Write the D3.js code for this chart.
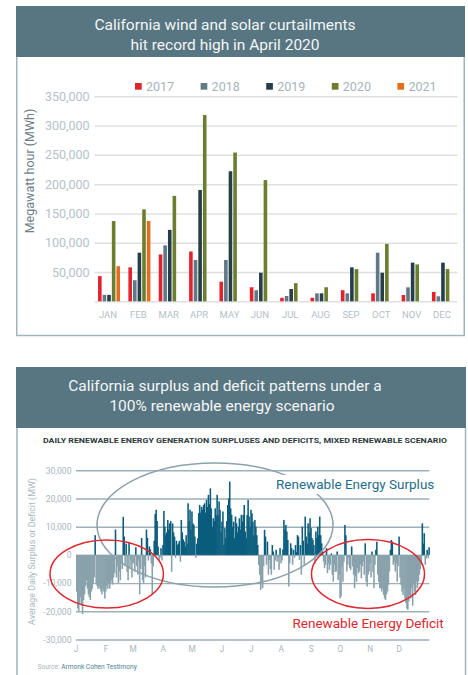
<!DOCTYPE html>
<html>
<head>
<meta charset="utf-8">
<script src="https://cdnjs.cloudflare.com/ajax/libs/d3/7.8.5/d3.min.js"></script>
<style>
body{margin:0;background:#fff;}
svg{display:block;font-family:Roboto,'Open Sans',sans-serif;}
</style>
</head>
<body>
<svg id="chart" width="468" height="675"></svg>
<script>
// ---- top chart data (MWh curtailed per month)
var months = ['JAN','FEB','MAR','APR','MAY','JUN','JUL','AUG','SEP','OCT','NOV','DEC'];
var years = ['2017','2018','2019','2020','2021'];
var yearColors = ['#e3222b','#5f7986','#263d4a','#6b7d2f','#e46c1c'];
var curt2017 = [43000,58000,80000,85000,33500,24000,6000,6000,19000,13600,10700,16000];
var curt2018 = [11000,36000,95500,70500,70500,18800,9000,13600,13600,83000,23900,8500];
var curt2019 = [11000,83000,122000,190000,222000,48800,21000,13600,58000,48800,66000,66000];
var curt2020 = [137000,157000,180000,318000,254000,207000,31000,24000,55000,98000,63000,55000];
var curt2021 = [60000,137000,null,null,null,null,null,null,null,null,null,null];
var curtTicks = [0,50000,100000,150000,200000,250000,300000,350000];

// ---- bottom chart data (daily surplus / deficit, thousand MW)
var dayJan = [-13,-19,-20,-17,-15,-18,-21,-16,-14,-11,-9,-12,-14,-15,-16,-13,-12,-10,-8,7,-10,-11,-12,-11,-12,-13,-14,-12,-13,-15.5,-13];
var dayFeb = [-11,-12,-10,-12,-10,-9,-10.5,-8,-6.5,9,-8,-4,-10,-6,-9,-3,-5,13.5,6.5,-4,4,-6,-9,4.4,-5,-2,-8,-3];
var dayMar = [-3,-6,2.7,-4,-7,-2,-14,-5,6,-9,-10,-4,-8,9,6,-2,3,2,-3,-14,-4,5,14.5,16,12,3,-2,-1,2.4,-2,3.5];
var dayApr = [15.6,10,7,8,12.4,9,11.2,12,-6,11.2,8,6.5,-1,5,3.5,4,5,-2.4,12.4,8,5.5,4.7,3,7,4,18.3,12,16,9,15.4];
var dayMay = [11.2,10.6,6.5,-1,4,5.9,14.8,17.7,15,17,16,17.7,18.3,15,19.5,17,21.3,18,23.6,16.5,10,13,12,16.5,14,21.3,14.2,19,16,8.3,11.8];
var dayJun = [15.4,3.5,9.5,6,12,17.7,20,26,16.5,14.2,10,11.8,6,13.6,11.2,8,10,13,9,14.2,11.8,14.2,17.7,8.3,6,14.2,19.5,13.6,10,16];
var dayJul = [14.8,11.8,7,12.4,10,7,3.5,-3.5,-7,-12.4,-10,-11.8,-4,8.9,6.5,-3.5,4.7,-7,-1.8,-5,-7,3.5,1.2,-5.3,-2,1.8,-2.4,-1,-5.3,2.4,-3];
var dayAug = [-2,2,12.4,9,10.6,8.3,5.3,-11.2,-3,4.1,2.4,-3.5,1.8,-1,3.5,1,7,6.5,-1.8,3.5,-7,10,5,-3.5,13.6,6.5,4,11.2,8,13,9.5];
var daySep = [6,5.3,3.5,-3,8.3,6,10,7,13.6,7,4.1,1.2,-2.4,-4.7,-3.5,2.4,-6.5,-3,-5.3,-3.5,0.5,-7,-9.5,-3.5,-6,-5.9,1.2,-8.9,-7,-15.4];
var dayOct = [-14.8,-4,-9.5,-2.4,10.6,7,-5.9,-3.5,-1,-4.7,-5.3,3,-4.1,-7,-11.8,-7.5,-9.5,-4.7,-6.5,-5.9,-3.5,-8.3,-4,-2.4,-7,4.1,-9.5,-11.2,-7,-5.9,-3];
var dayNov = [-8,1.2,-6,-11.8,-3.5,1.8,4.7,-7,-9.5,-11.8,-11.8,-13,-12,-14.2,-15.4,-16,-14,-13,-10.6,-5.9,1.8,5.3,4.7,-3.5,-2.4,-5.9,-3,-9.5,-4,6.5];
var dayDec = [-8,-10.6,-13,-14.2,-12,-15.4,-17,-19,-19.5,-16.5,-14.2,-15.4,-11.8,-18,-10.6,-13,-14.2,-9.5,-11.8,-9.5,-7,-5,-3.5,11.2,4,7.7,-3.5,-1.2,1.8,-1.2,2.7];
var monthLetters = ['J','F','M','A','M','J','J','A','S','O','N','D'];
var dailyTicks = [-30,-20,-10,0,10,20,30];

var svg = d3.select('#chart');
var headColor = '#587681', frameColor = '#9fb4bc';

//====== panel 1 frame
svg.append('rect').attr('x',16).attr('y',6).attr('width',449).attr('height',51).style('fill',headColor);
svg.append('path').attr('d','M16.75,57V335.5H464.25V57')
   .style('fill','none').style('stroke',frameColor).style('stroke-width',1.5);
svg.append('g').attr('id','title1')
   .selectAll('text')
   .data(['California wind and solar curtailments','hit record high in April 2020'])
   .enter().append('text')
   .attr('x',225).attr('y',(d,i)=>30+i*19.5)
   .text(d=>d)
   .style('fill','#f3f5f6').style('font-size','15.5px').style('text-anchor','middle');

//====== bar chart
var series = [curt2017,curt2018,curt2019,curt2020,curt2021];
var x0 = d3.scaleBand().domain(months).range([95,457]).paddingInner(0.275).paddingOuter(0.1);
var x1 = d3.scaleBand().domain(years).range([0,x0.bandwidth()]).paddingInner(0.22).paddingOuter(0);
var yC = d3.scaleLinear().domain([0,350000]).range([301.3,96.3]);
var color = d3.scaleOrdinal().domain(years).range(yearColors);

var yAxisC = d3.axisLeft(yC).tickValues(curtTicks).tickSize(-(457.5-94.5)).tickPadding(5)
               .tickFormat(d=>d===0?'':d3.format(',')(d));
var gy = svg.append('g').attr('id','yaxisC').attr('transform','translate(94.5,0)').call(yAxisC);
gy.select('.domain').remove();
gy.selectAll('line').style('stroke','#e0e0e0').style('stroke-width',1.5);
gy.selectAll('text').style('fill','#b4c2c8').style('font-size','12.5px').style('font-family','Roboto');

var xAxisC = d3.axisBottom(x0).tickSize(0).tickPadding(9.5);
var gx = svg.append('g').attr('id','xaxisC').attr('transform','translate(-1,301.3)').call(xAxisC);
gx.select('.domain').remove();
gx.selectAll('text').style('fill','#b2bfc6').style('font-size','9.5px').style('font-family','Roboto');

var barData = [];
months.forEach(function(m,i){
	years.forEach(function(yr,j){
		var v = series[j][i];
		if(v!=null) barData.push({month:m,year:yr,value:v});
	});
});
svg.append('g').attr('id','bars')
   .selectAll('rect').data(barData).enter().append('rect')
   .attr('x',d=>x0(d.month)+x1(d.year))
   .attr('width',x1.bandwidth())
   .attr('y',d=>yC(d.value))
   .attr('height',d=>yC(0)-yC(d.value))
   .style('fill',d=>color(d.year));

var leg = svg.append('g').attr('id','legend')
   .selectAll('g').data(years).enter().append('g')
   .attr('transform',(d,i)=>'translate('+(135+i*65.6)+',83)');
leg.append('rect').attr('width',6.7).attr('height',6.7).style('fill',d=>color(d));
leg.append('text').attr('x',11).attr('y',7.8).text(d=>d)
   .style('fill','#a6b5bc').style('font-size','12.5px');

svg.append('text').attr('transform','translate(34,171) rotate(-90)')
   .text('Megawatt hour (MWh)')
   .style('fill','#6f7f87').style('font-size','12.5px').style('text-anchor','middle');

//====== panel 2 frame
svg.append('rect').attr('x',16).attr('y',367).attr('width',450).attr('height',61).style('fill',headColor);
svg.append('path').attr('d','M17,428V675M465.5,428V675')
   .style('fill','none').style('stroke',frameColor).style('stroke-width',1.5);
svg.append('g').attr('id','title2')
   .selectAll('text')
   .data(['California surplus and deficit patterns under a','100% renewable energy scenario'])
   .enter().append('text')
   .attr('x',(d,i)=>i?222:225).attr('y',(d,i)=>390.5+i*20)
   .text(d=>d)
   .style('fill','#f3f5f6').style('font-size','15.5px').style('text-anchor','middle');
svg.append('text').attr('x',245).attr('y',443)
   .attr('textLength',404).attr('lengthAdjust','spacingAndGlyphs')
   .text('DAILY RENEWABLE ENERGY GENERATION SURPLUSES AND DEFICITS, MIXED RENEWABLE SCENARIO')
   .style('fill','#2d3a40').style('font-size','7.6px').style('font-weight','bold').style('text-anchor','middle');

//====== daily chart
var daily = [].concat(dayJan,dayFeb,dayMar,dayApr,dayMay,dayJun,dayJul,dayAug,daySep,dayOct,dayNov,dayDec);
var monthStarts = [], acc = 0;
[dayJan,dayFeb,dayMar,dayApr,dayMay,dayJun,dayJul,dayAug,daySep,dayOct,dayNov,dayDec].forEach(function(a){monthStarts.push(acc);acc+=a.length;});

var xD = d3.scaleLinear().domain([0,365]).range([76,429.3]);
var yD = d3.scaleLinear().domain([-30,30]).range([639.5,470.3]);
var fmtD = d=>(d<0?'-':'')+d3.format(',')(Math.abs(d*1000));

var gyD = svg.append('g').attr('id','yaxisD').attr('transform','translate(76,0)')
   .call(d3.axisLeft(yD).tickValues(dailyTicks).tickSize(-(429.3-76)).tickPadding(4.5).tickFormat(fmtD));
gyD.select('.domain').remove();
gyD.selectAll('line').style('stroke','#9db1b9').style('stroke-width',1.4);
gyD.selectAll('text').style('fill','#a8b7be').style('font-size','8.6px').style('font-family','Roboto');

svg.append('text').attr('transform','translate(35,551.5) rotate(-90)')
   .text('Average Daily Surplus or Deficit (MW)')
   .style('fill','#a9b8bf').style('font-size','8.9px').style('text-anchor','middle');

svg.append('g').attr('id','monthsD')
   .selectAll('text').data(monthStarts).enter().append('text')
   .attr('x',d=>xD(d)).attr('y',652)
   .text((d,i)=>monthLetters[i])
   .style('fill','#a8b8c0').style('font-size','8.3px').style('text-anchor','middle');

var bw = xD(1)-xD(0);
svg.append('g').attr('id','dailyBars')
   .selectAll('rect').data(daily).enter().append('rect')
   .attr('x',(d,i)=>xD(i))
   .attr('width',bw+0.6)
   .attr('y',d=>yD(Math.max(0,d)))
   .attr('height',d=>Math.abs(yD(d)-yD(0)))
   .style('fill',d=>d>=0?'#0b5d7e':'#89a2ac');

svg.append('ellipse').attr('cx',215).attr('cy',525).attr('rx',118).attr('ry',62)
   .style('fill','none').style('stroke','#8ca2ab').style('stroke-width',1.5);
svg.append('g').attr('id','deficitRings')
   .selectAll('ellipse').data([[106.7,574,56.7,34],[368,574,56.5,34.5]]).enter().append('ellipse')
   .attr('cx',d=>d[0]).attr('cy',d=>d[1]).attr('rx',d=>d[2]).attr('ry',d=>d[3])
   .style('fill','none').style('stroke','#e0262f').style('stroke-width',1.5);

svg.append('rect').attr('x',272).attr('y',475).attr('width',168).attr('height',19).style('fill','#fff');
svg.append('text').attr('x',276).attr('y',489).text('Renewable Energy Surplus')
   .style('fill','#1f6d8a').style('font-size','13.5px');
svg.append('text').attr('x',292.5).attr('y',628).text('Renewable Energy Deficit')
   .style('fill','#e0262f').style('font-size','13.5px');

var src = svg.append('text').attr('x',37.5).attr('y',668.5).style('font-size','6.6px');
src.append('tspan').text('Source: ').style('fill','#a8b5bb');
src.append('tspan').text('Armonk Cohen Testimony').style('fill','#4a7f95');
</script>
</body>
</html>
